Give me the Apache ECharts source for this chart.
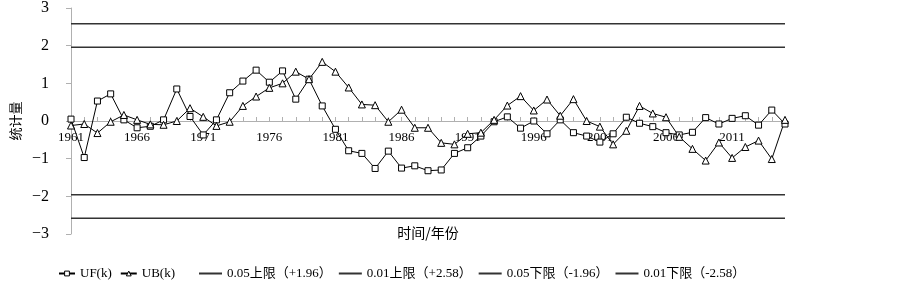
<!DOCTYPE html>
<html>
<head>
<meta charset="utf-8">
<script src="https://cdn.jsdelivr.net/npm/echarts@6/dist/echarts.min.js"></script>
<style>html,body{margin:0;padding:0;background:#fff;}#c{width:903px;height:283px;}</style>
</head>
<body>
<div id="c"></div>
<script>
var years = ['1961','1962','1963','1964','1965','1966','1967','1968','1969','1970',
  '1971','1972','1973','1974','1975','1976','1977','1978','1979','1980',
  '1981','1982','1983','1984','1985','1986','1987','1988','1989','1990',
  '1991','1992','1993','1994','1995','1996','1997','1998','1999','2000',
  '2001','2002','2003','2004','2005','2006','2007','2008','2009','2010',
  '2011','2012','2013','2014','2015'];
var ufValues = [0.05,-0.97,0.53,0.72,0.03,-0.18,-0.14,0.03,0.85,0.12,
  -0.37,0.03,0.75,1.06,1.35,1.03,1.33,0.58,1.11,0.40,
  -0.22,-0.79,-0.86,-1.26,-0.80,-1.25,-1.19,-1.32,-1.30,-0.86,
  -0.71,-0.40,-0.02,0.11,-0.19,0.00,-0.34,0.03,-0.31,-0.40,
  -0.56,-0.34,0.10,-0.06,-0.15,-0.31,-0.37,-0.30,0.09,-0.08,
  0.07,0.14,-0.11,0.29,-0.08];
var ubValues = [-0.12,-0.08,-0.32,-0.02,0.16,0.03,-0.09,-0.10,0.00,0.34,
  0.11,-0.13,-0.02,0.40,0.65,0.88,1.00,1.31,1.11,1.57,
  1.31,0.89,0.44,0.42,-0.02,0.30,-0.18,-0.18,-0.58,-0.62,
  -0.34,-0.31,0.03,0.41,0.66,0.28,0.57,0.14,0.58,0.00,
  -0.15,-0.62,-0.26,0.40,0.20,0.10,-0.42,-0.74,-1.05,-0.57,
  -0.98,-0.69,-0.52,-1.01,0.03];
var limitNames = ['0.05上限（+1.96）','0.01上限（+2.58）','0.05下限（-1.96）','0.01下限（-2.58）'];
var limitValues = [1.96, 2.58, -1.96, -2.58];
var yTicks = [-3,-2,-1,0,1,2,3];

var serif = '"Liberation Serif","DejaVu Serif","Noto Sans CJK SC",serif';
var gridTop = 8, gridBottom = 49, chartH = 283;
var plotH = chartH - gridTop - gridBottom;
// x axis sits on the zero line: shift it up from the grid bottom by the distance from min to 0
var zeroOffset = -plotH * (0 - yTicks[0]) / (yTicks[yTicks.length-1] - yTicks[0]);

var chart = echarts.init(document.getElementById('c'));
var markStyle = {color:'#fff',borderColor:'#000',borderWidth:1};
var series = [
  {name:'UF(k)', type:'line', data:ufValues, symbol:'rect', symbolSize:6,
   lineStyle:{color:'#000',width:1}, itemStyle:markStyle, z:5},
  {name:'UB(k)', type:'line', data:ubValues, symbol:'triangle', symbolSize:7,
   lineStyle:{color:'#000',width:1}, itemStyle:markStyle, z:5}
];
limitNames.forEach(function(n,i){
  series.push({name:n, type:'line', symbol:'none',
    data:[[years[0],limitValues[i]],[years[years.length-1],limitValues[i]]],
    lineStyle:{color:'#333',width:1.5}, itemStyle:{color:'#333'}, z:3});
});
var serNames = ['UF(k)','UB(k)'];
var legendWidths = [38, 38, 132, 142, 97, 110];
var legendNames = serNames.concat(limitNames);
var rich = {};
legendNames.forEach(function(n,i){ rich['w'+i] = {width:legendWidths[i], fontFamily:serif, fontSize:13, color:'#000'}; });
var fmt = function(name){ return '{w'+legendNames.indexOf(name)+'|'+name+'}'; };
chart.setOption({
  animation:false,
  backgroundColor:'#fff',
  grid:{left:71,right:118,top:gridTop,bottom:gridBottom,outerBoundsMode:'none',containLabel:false},
  legend:[
    {left:58,top:267,padding:0,itemWidth:16,itemHeight:6,itemGap:8,
     textStyle:{fontFamily:serif,fontSize:13,color:'#000',rich:rich},formatter:fmt,
     data:serNames.map(function(n){ return {name:n,itemStyle:markStyle}; })},
    {left:198,top:267,padding:0,itemWidth:23,itemHeight:6,itemGap:6,
     textStyle:{fontFamily:serif,fontSize:13,color:'#000',rich:rich},formatter:fmt,
     data:limitNames.map(function(n){ return {name:n,itemStyle:{opacity:0}}; })}
  ],
  xAxis:{type:'category',data:years,boundaryGap:false,offset:zeroOffset,
    axisLine:{onZero:false,lineStyle:{color:'#b0b0b0',width:1}},
    axisTick:{show:true,inside:true,length:4,interval:0,lineStyle:{color:'#b0b0b0'}},
    axisLabel:{interval:4,margin:10,fontFamily:serif,fontSize:13,color:'#000'},
    name:'时间/年份',nameLocation:'middle',nameGap:105,
    nameTextStyle:{fontFamily:'"Noto Sans CJK SC",sans-serif',fontSize:14,color:'#000'}},
  yAxis:{type:'value',min:yTicks[0],max:yTicks[yTicks.length-1],interval:1,
    axisLine:{show:true,lineStyle:{color:'#b0b0b0'}},
    axisTick:{show:true,length:5,lineStyle:{color:'#b0b0b0'}},
    splitLine:{show:false},
    axisLabel:{margin:22,fontFamily:serif,fontSize:16,color:'#000',
      formatter:function(v){return String(v).replace('-','\u2212');}},
    name:'统计量',nameLocation:'middle',nameRotate:90,nameGap:42,
    nameTextStyle:{fontFamily:'"Noto Sans CJK SC",sans-serif',fontSize:13,color:'#000'}},
  series:series
});
</script>
</body>
</html>
